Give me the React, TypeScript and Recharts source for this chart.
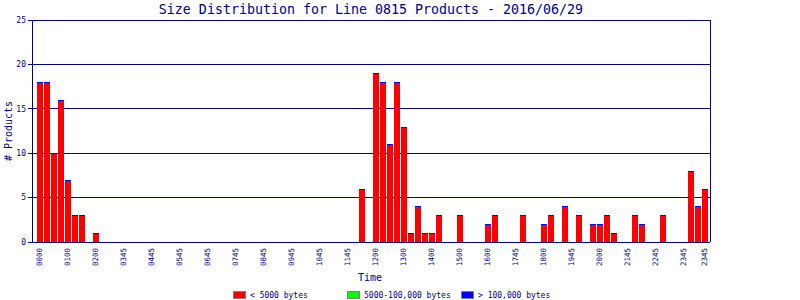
import React from "react";
import { BarChart, Bar, XAxis, YAxis, CartesianGrid } from "recharts";

const times: string[] = [
  "0000","0015","0030","0045","0100","0115","0130","0145",
  "0200","0215","0230","0245","0300","0315","0330","0345",
  "0400","0415","0430","0445","0500","0515","0530","0545",
  "0600","0615","0630","0645","0700","0715","0730","0745",
  "0800","0815","0830","0845","0900","0915","0930","0945",
  "1000","1015","1030","1045","1100","1115","1130","1145",
  "1200","1215","1230","1245","1300","1315","1330","1345",
  "1400","1415","1430","1445","1500","1515","1530","1545",
  "1600","1615","1630","1645","1700","1715","1730","1745",
  "1800","1815","1830","1845","1900","1915","1930","1945",
  "2000","2015","2030","2045","2100","2115","2130","2145",
  "2200","2215","2230","2245","2300","2315","2330","2345",
];

const small: number[] = [
  18, 18, 10, 16, 7, 3, 3, 0,
  1, 0, 0, 0, 0, 0, 0, 0,
  0, 0, 0, 0, 0, 0, 0, 0,
  0, 0, 0, 0, 0, 0, 0, 0,
  0, 0, 0, 0, 0, 0, 0, 0,
  0, 0, 0, 0, 0, 0, 6, 0,
  19, 18, 11, 18, 13, 1, 4, 1,
  1, 3, 0, 0, 3, 0, 0, 0,
  2, 3, 0, 0, 0, 3, 0, 0,
  2, 3, 0, 4, 0, 3, 0, 2,
  2, 3, 1, 0, 0, 3, 2, 0,
  0, 3, 0, 0, 0, 8, 4, 6,
];

const medium: number[] = [
  0, 0, 0, 0, 0, 0, 0, 0,
  0, 0, 0, 0, 0, 0, 0, 0,
  0, 0, 0, 0, 0, 0, 0, 0,
  0, 0, 0, 0, 0, 0, 0, 0,
  0, 0, 0, 0, 0, 0, 0, 0,
  0, 0, 0, 0, 0, 0, 0, 0,
  0, 0, 0, 0, 0, 0, 0, 0,
  0, 0, 0, 0, 0, 0, 0, 0,
  0, 0, 0, 0, 0, 0, 0, 0,
  0, 0, 0, 0, 0, 0, 0, 0,
  0, 0, 0, 0, 0, 0, 0, 0,
  0, 0, 0, 0, 0, 0, 0, 0,
];

const large: number[] = [
  0, 0, 0, 0, 0, 0, 0, 0,
  0, 0, 0, 0, 0, 0, 0, 0,
  0, 0, 0, 0, 0, 0, 0, 0,
  0, 0, 0, 0, 0, 0, 0, 0,
  0, 0, 0, 0, 0, 0, 0, 0,
  0, 0, 0, 0, 0, 0, 0, 0,
  0, 0, 0, 0, 0, 0, 0, 0,
  0, 0, 0, 0, 0, 0, 0, 0,
  0, 0, 0, 0, 0, 0, 0, 0,
  0, 0, 0, 0, 0, 0, 0, 0,
  0, 0, 0, 0, 0, 0, 0, 0,
  0, 0, 0, 0, 0, 0, 0, 0,
];

const tickTimes: string[] = [
  "0000","0100","0200","0300","0400","0500","0600","0700","0800","0900","1000","1100",
  "1200","1300","1400","1500","1600","1700","1800","1900","2000","2100","2200","2300","2345",
];
const tickLabels: string[] = [
  "0000","0100","0200","0345","0445","0545","0645","0745","0845","0945","1045","1145",
  "1200","1300","1400","1500","1600","1745","1800","1945","2000","2145","2245","2345","2345",
];

const yTicks: number[] = [0, 5, 10, 15, 20, 25];

const seriesNames: string[] = ["< 5000 bytes", "5000-100,000 bytes", "> 100,000 bytes"];
const seriesColors: string[] = ["#FF0000", "#00FF00", "#0000FF"];

const title = "Size Distribution for Line 0815 Products - 2016/06/29";

const NAVY = "#000080";
const MONO = "'DejaVu Sans Mono', 'Liberation Mono', monospace";

const data = times.map((t, i) => ({
  time: t,
  small: small[i],
  medium: medium[i],
  large: large[i],
}));

const labelMap: Record<string, string> = {};
tickTimes.forEach((t, i) => {
  labelMap[t] = tickLabels[i];
});

const XTick = (props: any) => {
  const { x, y, payload } = props;
  const label = labelMap[payload.value];
  if (!label) return null;
  return (
    <text
      x={x}
      y={y}
      transform={`rotate(-90, ${x}, ${y})`}
      textAnchor="end"
      dominantBaseline="central"
      fontSize={7.5}
      fontFamily={MONO}
      fill={NAVY}
    >
      {label}
    </text>
  );
};

const CappedBar = (props: any) => {
  const { x, y, width, height, fill } = props;
  if (!height || height <= 0) return null;
  const top = Math.round(y);
  const bottom = Math.round(y + height);
  const left = Math.round(x);
  const w = Math.round(width);
  return (
    <g>
      <rect x={left} y={top} width={w} height={bottom - top} fill={fill} />
      <rect x={left} y={top} width={w} height={1} fill="#0000FF" />
    </g>
  );
};

export default function App() {
  const legendX = [233, 347, 461];
  return (
    <div
      style={{
        position: "absolute",
        left: 0,
        top: 0,
        width: 800,
        height: 300,
        background: "#fff",
        shapeRendering: "crispEdges",
      }}
    >
      <BarChart
        width={800}
        height={300}
        data={data}
        margin={{ top: 20, right: 80, bottom: 28, left: 0 }}
        barSize={6}
      >
        <CartesianGrid horizontal vertical={false} stroke={NAVY} strokeWidth={1} />
        <XAxis
          dataKey="time"
          type="category"
          interval={0}
          height={30}
          tickLine={false}
          tickSize={0}
          tickMargin={6}
          axisLine={{ stroke: NAVY, strokeWidth: 1 }}
          padding={{ left: 3.5, right: 2.5 }}
          tick={<XTick />}
        />
        <YAxis
          domain={[0, 25]}
          ticks={yTicks}
          width={32}
          tickSize={4}
          tickMargin={2}
          interval={0}
          allowDataOverflow
          axisLine={{ stroke: NAVY, strokeWidth: 1 }}
          tickLine={{ stroke: NAVY, strokeWidth: 1 }}
          tick={{ fill: NAVY, fontSize: 8, fontFamily: MONO }}
        />
        <YAxis
          yAxisId="r"
          orientation="right"
          domain={[0, 25]}
          width={10}
          tick={false}
          tickLine={false}
          axisLine={{ stroke: NAVY, strokeWidth: 1 }}
        />
        <Bar dataKey="small" stackId="a" fill={seriesColors[0]} shape={<CappedBar />} isAnimationActive={false} />
        <Bar dataKey="medium" stackId="a" fill={seriesColors[1]} isAnimationActive={false} />
        <Bar dataKey="large" stackId="a" fill={seriesColors[2]} isAnimationActive={false} />
      </BarChart>
      <svg
        width={800}
        height={300}
        style={{ position: "absolute", left: 0, top: 0, pointerEvents: "none" }}
      >
        <text x={371} y={9} textAnchor="middle" dominantBaseline="central" fontSize={13.3} fontFamily={MONO} fill={NAVY}>
          {title}
        </text>
        <text
          x={8}
          y={131}
          transform="rotate(-90, 8, 131)"
          textAnchor="middle"
          dominantBaseline="central"
          fontSize={10}
          fontFamily={MONO}
          fill={NAVY}
        >
          # Products
        </text>
        <text x={370} y={277} textAnchor="middle" dominantBaseline="central" fontSize={10} fontFamily={MONO} fill={NAVY}>
          Time
        </text>
        {seriesNames.map((name, i) => (
          <g key={name}>
            <rect x={legendX[i] + 0.5} y={291.5} width={12} height={7} fill={seriesColors[i]} stroke="#808080" strokeWidth={1} />
            <text x={legendX[i] + 17} y={295} dominantBaseline="central" fontSize={8} fontFamily={MONO} fill={NAVY}>
              {name}
            </text>
          </g>
        ))}
      </svg>
    </div>
  );
}
